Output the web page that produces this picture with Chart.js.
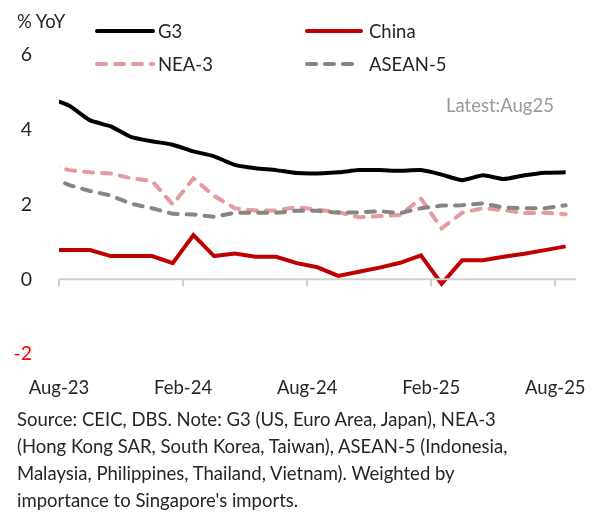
<!DOCTYPE html>
<html><head><meta charset="utf-8">
<script src="https://cdn.jsdelivr.net/npm/chart.js@4"></script>
<style>
html,body{margin:0;padding:0;background:#fff;}
#wrap{position:relative;width:614px;height:522px;overflow:hidden;font-family:Lato,"Liberation Sans",sans-serif;color:#262626;}
canvas{position:absolute;left:0;top:0;}
.t{position:absolute;white-space:nowrap;font-size:18.5px;line-height:22px;}
.note{position:absolute;left:17px;top:406px;font-size:18.5px;line-height:27px;white-space:nowrap;}
</style></head>
<body><div id="wrap">
<canvas id="c" width="614" height="522"></canvas>
<div class="t" style="left:17px;top:10px;">% YoY</div>
<svg style="position:absolute;left:0;top:0" width="614" height="90">
<line x1="97" y1="31" x2="153" y2="31" stroke="#000" stroke-width="4" stroke-linecap="round"/>
<line x1="307" y1="31" x2="361" y2="31" stroke="#C00000" stroke-width="4" stroke-linecap="round"/>
<line x1="97" y1="64" x2="153" y2="64" stroke="#E59A9E" stroke-width="4" stroke-linecap="round" stroke-dasharray="9 9"/>
<line x1="307" y1="64" x2="361" y2="64" stroke="#858585" stroke-width="4" stroke-linecap="round" stroke-dasharray="9 9"/>
</svg>
<div class="t" style="left:158px;top:20px;">G3</div>
<div class="t" style="left:369px;top:20px;">China</div>
<div class="t" style="left:158px;top:53px;">NEA-3</div>
<div class="t" style="left:369px;top:53px;">ASEAN-5</div>
<div class="t" style="left:446px;top:94px;color:#9a9a9a;">Latest:Aug25</div>
<div class="note">Source: CEIC, DBS. Note: G3 (US, Euro Area, Japan), NEA-3<br>(Hong Kong SAR, South Korea, Taiwan), ASEAN-5 (Indonesia,<br>Malaysia, Philippines, Thailand, Vietnam). Weighted by<br>importance to Singapore's imports.</div>
</div>
<script>
const months = ['Jul-23','Aug-23','Sep-23','Oct-23','Nov-23','Dec-23','Jan-24','Feb-24','Mar-24','Apr-24','May-24','Jun-24','Jul-24','Aug-24','Sep-24','Oct-24','Nov-24','Dec-24','Jan-25','Feb-25','Mar-25','Apr-25','May-25','Jun-25','Jul-25','Aug-25'];
const g3    = [4.85,4.64,4.25,4.09,3.80,3.69,3.60,3.42,3.29,3.06,2.97,2.92,2.84,2.83,2.86,2.92,2.92,2.90,2.92,2.80,2.65,2.78,2.68,2.78,2.85,2.86];
const china = [0.78,0.78,0.78,0.62,0.62,0.62,0.43,1.18,0.62,0.69,0.60,0.60,0.43,0.32,0.09,0.20,0.31,0.44,0.64,-0.12,0.51,0.51,0.60,0.68,0.78,0.88];
const nea3  = [3.05,2.92,2.86,2.83,2.70,2.63,2.00,2.70,2.23,1.90,1.84,1.84,1.93,1.86,1.80,1.66,1.69,1.72,2.16,1.36,1.78,1.90,1.85,1.77,1.78,1.74];
const asean5= [2.76,2.52,2.36,2.24,2.02,1.90,1.75,1.73,1.67,1.78,1.78,1.78,1.83,1.83,1.78,1.79,1.82,1.77,1.90,1.97,1.98,2.03,1.92,1.90,1.90,1.98];
const xTickLabels = ['Aug-23','Feb-24','Aug-24','Feb-25','Aug-25'];
const yTicks = [-2,0,2,4,6];

// month position: Aug-23 start = 0, points plotted mid-month
const pts = arr => arr.map((v,i)=>({x:i-0.5,y:v}));

const axisDeco = {
  id:'axisDeco',
  afterDatasetsDraw(chart){
    const {ctx,scales:{x,y}} = chart;
    const y0 = y.getPixelForValue(0);
    ctx.save();
    ctx.strokeStyle='#d0d0d0';ctx.lineWidth=2;
    ctx.beginPath();
    ctx.moveTo(x.getPixelForValue(0),y0);ctx.lineTo(x.getPixelForValue(25),y0);
    xTickLabels.forEach((l,k)=>{const px=Math.round(x.getPixelForValue(k*6));ctx.moveTo(px,y0);ctx.lineTo(px,y0+7);});
    ctx.stroke();ctx.restore();
  }
};

new Chart(document.getElementById('c'),{
  type:'line',
  data:{datasets:[
    {label:'ASEAN-5',data:pts(asean5),borderColor:'#858585',borderWidth:4,borderDash:[9,9],borderCapStyle:'round',pointRadius:0,tension:0},
    {label:'NEA-3',data:pts(nea3),borderColor:'#E59A9E',borderWidth:4,borderDash:[9,9],borderCapStyle:'round',pointRadius:0,tension:0},
    {label:'China',data:pts(china),borderColor:'#C00000',borderWidth:4,pointRadius:0,tension:0,borderJoinStyle:'miter'},
    {label:'G3',data:pts(g3),borderColor:'#000000',borderWidth:4,pointRadius:0,tension:0.15}
  ]},
  options:{
    responsive:false,animation:false,
    layout:{padding:{top:55,right:38,bottom:98,left:0}},
    plugins:{legend:{display:false},tooltip:{enabled:false}},
    scales:{
      x:{type:'linear',min:0,max:25,
        grid:{display:false,drawTicks:false},border:{display:false},
        afterBuildTicks(s){s.ticks=xTickLabels.map((l,k)=>({value:k*6}));},
        afterFit(s){s.height=70;},
        ticks:{padding:23,maxRotation:0,autoSkip:false,font:{family:'Lato',size:18.5},color:'#262626',
          callback:(v)=>xTickLabels[Math.round(v/6)]}
      },
      y:{min:-2,max:6,
        grid:{display:false,drawTicks:false},border:{display:false},
        afterBuildTicks(s){s.ticks=yTicks.map(v=>({value:v}));},
        afterFit(s){s.width=59;},
        ticks:{padding:27,font:{family:'Lato',size:19.5},
          color:(c)=>c.tick.value<0?'#FF0000':'#262626'}
      }
    }
  },
  plugins:[axisDeco]
});
</script>
</body></html>
